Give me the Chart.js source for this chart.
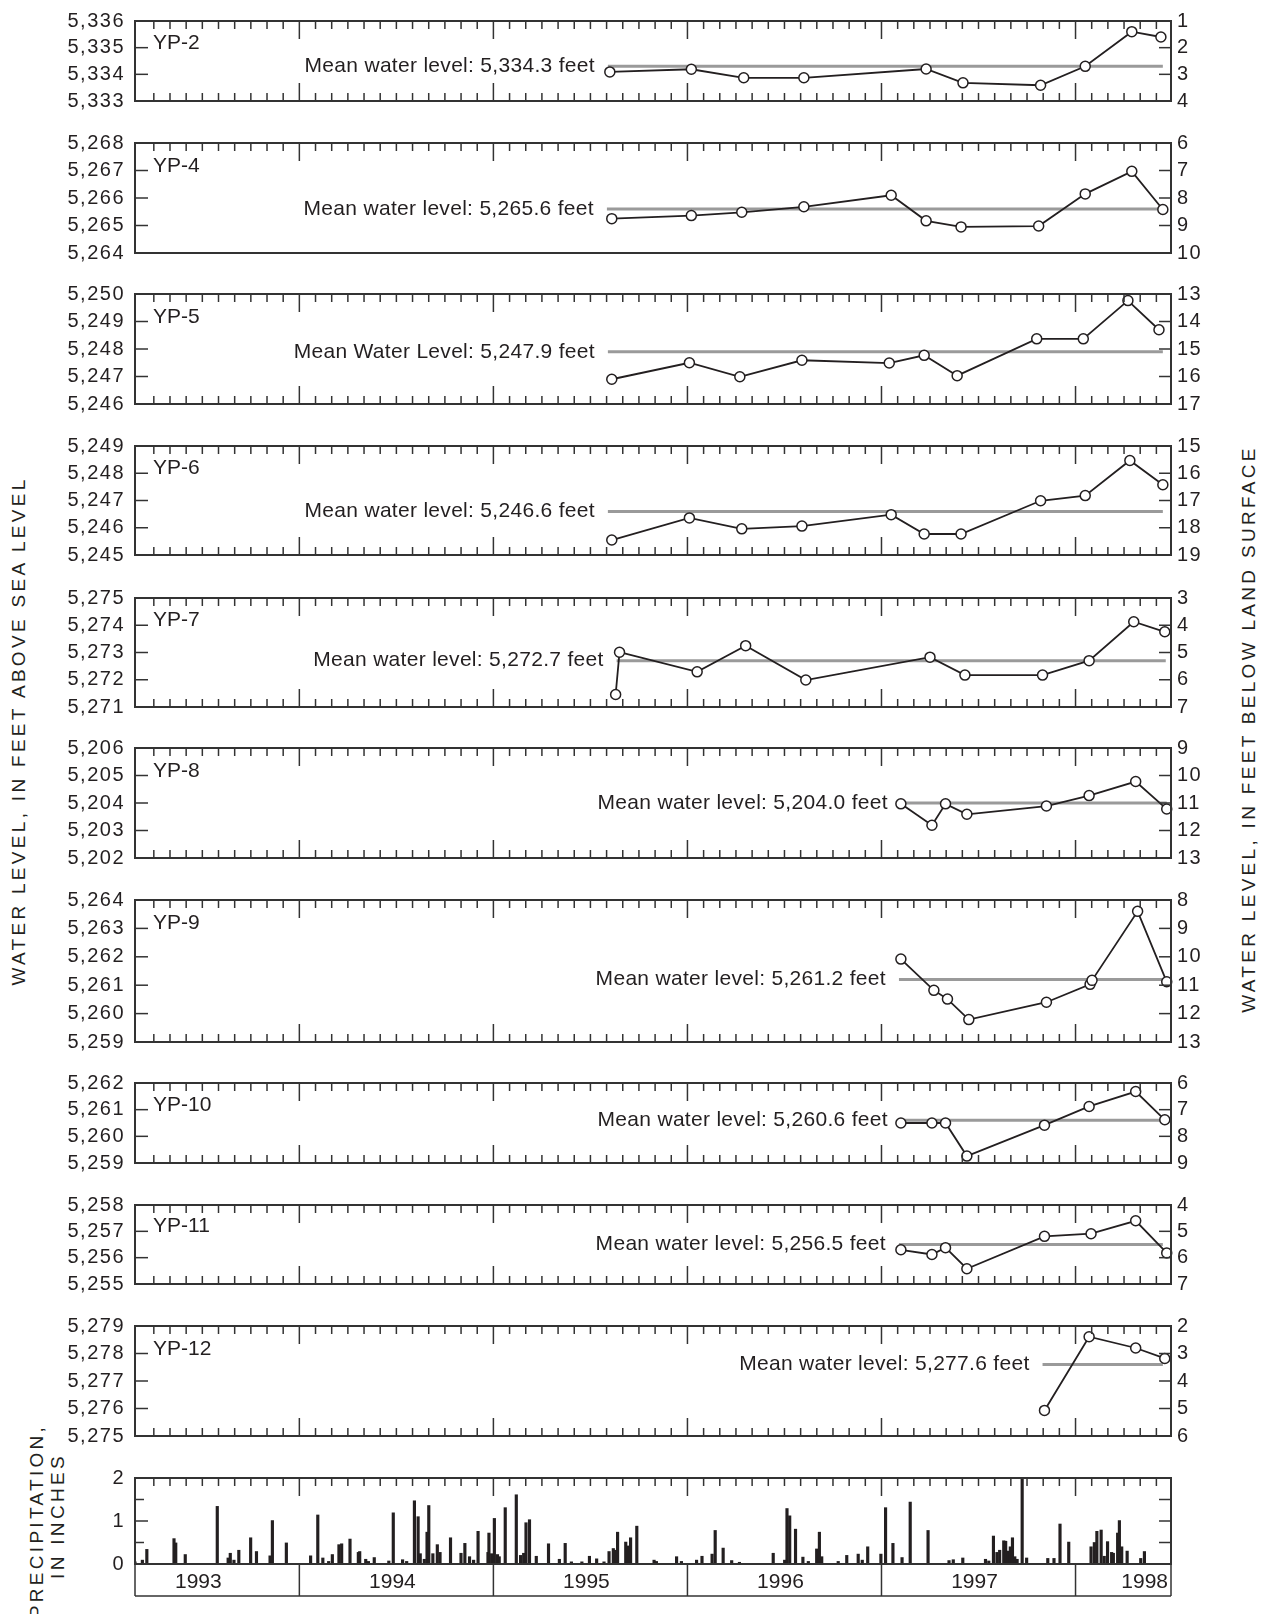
<!DOCTYPE html>
<html>
<head>
<meta charset="utf-8">
<title>YP wells - water levels and precipitation</title>
<script src="https://cdn.jsdelivr.net/npm/chart.js@4.4.1/dist/chart.umd.min.js"></script>
<style>
  body { margin: 0; background: #fff; }
  #page { position: relative; width: 1271px; height: 1614px; overflow: hidden;
          font-family: "Liberation Sans", Arial, Helvetica, sans-serif; color: #231f20; }
  #page canvas { position: absolute; left: 0; }
  .title { position: absolute; white-space: nowrap; font-size: 19px; letter-spacing: 3.3px;
           transform: translate(-50%, -50%) rotate(-90deg); }
</style>
</head>
<body>
<div id="page">
  <div class="title" style="left:19px; top:731px;">WATER LEVEL, IN FEET ABOVE SEA LEVEL</div>
  <div class="title" style="left:1249px; top:729px;">WATER LEVEL, IN FEET BELOW LAND SURFACE</div>
  <div class="title" style="left:37px; top:1521px;">PRECIPITATION,</div>
  <div class="title" style="left:58px; top:1516px;">IN INCHES</div>
</div>
<script>
const ink = '#231f20';
const frameColor = '#333333';
Chart.defaults.font.family = '"Liberation Sans", Arial, Helvetica, sans-serif';
Chart.defaults.color = ink;

// time axis, in decimal years
const xStart = 1993.153;
const xEnd = 1998.492;
const yearLabels = ['1993', '1994', '1995', '1996', '1997', '1998'];

// one entry per well panel, top to bottom
const wellNames = ['YP-2', 'YP-4', 'YP-5', 'YP-6', 'YP-7', 'YP-8', 'YP-9', 'YP-10', 'YP-11', 'YP-12'];
const levelMin = [5333, 5264, 5246, 5245, 5271, 5202, 5259, 5259, 5255, 5275];
const levelMax = [5336, 5268, 5250, 5249, 5275, 5206, 5264, 5262, 5258, 5279];
// depth below land surface at the top of each panel
const depthAtTop = [1, 6, 13, 15, 3, 9, 8, 6, 4, 2];
const meanLevels = [5334.3, 5265.6, 5247.9, 5246.6, 5272.7, 5204.0, 5261.2, 5260.6, 5256.5, 5277.6];
const meanTexts = [
  'Mean water level: 5,334.3 feet',
  'Mean water level: 5,265.6 feet',
  'Mean Water Level: 5,247.9 feet',
  'Mean water level: 5,246.6 feet',
  'Mean water level: 5,272.7 feet',
  'Mean water level: 5,204.0 feet',
  'Mean water level: 5,261.2 feet',
  'Mean water level: 5,260.6 feet',
  'Mean water level: 5,256.5 feet',
  'Mean water level: 5,277.6 feet'
];
const meanFrom = [1995.59, 1995.585, 1995.59, 1995.59, 1995.635, 1997.10, 1997.09, 1997.10, 1997.09, 1997.83];
const meanTo = [1998.45, 1998.455, 1998.45, 1998.45, 1998.465, 1998.47, 1998.47, 1998.47, 1998.45, 1998.45];

// measured water levels: decimal year, feet above sea level
const yp2Dates = [1995.60, 1996.02, 1996.29, 1996.60, 1997.23, 1997.42, 1997.82, 1998.05, 1998.29, 1998.44];
const yp2Levels = [5334.09, 5334.19, 5333.87, 5333.87, 5334.20, 5333.68, 5333.59, 5334.30, 5335.60, 5335.40];
const yp4Dates = [1995.61, 1996.02, 1996.28, 1996.60, 1997.05, 1997.23, 1997.41, 1997.81, 1998.05, 1998.29, 1998.45];
const yp4Levels = [5265.25, 5265.36, 5265.48, 5265.68, 5266.10, 5265.17, 5264.95, 5264.98, 5266.15, 5266.97, 5265.58];
const yp5Dates = [1995.61, 1996.01, 1996.27, 1996.59, 1997.04, 1997.22, 1997.39, 1997.80, 1998.04, 1998.27, 1998.43];
const yp5Levels = [5246.90, 5247.50, 5246.99, 5247.59, 5247.49, 5247.77, 5247.03, 5248.37, 5248.37, 5249.76, 5248.70];
const yp6Dates = [1995.61, 1996.01, 1996.28, 1996.59, 1997.05, 1997.22, 1997.41, 1997.82, 1998.05, 1998.28, 1998.45];
const yp6Levels = [5245.55, 5246.36, 5245.96, 5246.06, 5246.48, 5245.77, 5245.77, 5246.99, 5247.18, 5248.47, 5247.58];
const yp7Dates = [1995.63, 1995.65, 1996.05, 1996.30, 1996.61, 1997.25, 1997.43, 1997.83, 1998.07, 1998.30, 1998.46];
const yp7Levels = [5271.46, 5273.01, 5272.29, 5273.25, 5271.99, 5272.83, 5272.17, 5272.17, 5272.70, 5274.13, 5273.76];
const yp8Dates = [1997.10, 1997.26, 1997.33, 1997.44, 1997.85, 1998.07, 1998.31, 1998.47];
const yp8Levels = [5203.97, 5203.19, 5203.97, 5203.59, 5203.89, 5204.27, 5204.78, 5203.78];
const yp9Dates = [1997.10, 1997.27, 1997.34, 1997.45, 1997.85, 1998.075, 1998.085, 1998.32, 1998.47];
const yp9Levels = [5261.92, 5260.82, 5260.51, 5259.79, 5260.40, 5261.03, 5261.17, 5263.60, 5261.12];
const yp10Dates = [1997.10, 1997.26, 1997.33, 1997.44, 1997.84, 1998.07, 1998.31, 1998.46];
const yp10Levels = [5260.50, 5260.50, 5260.50, 5259.26, 5260.42, 5261.12, 5261.68, 5260.62];
const yp11Dates = [1997.10, 1997.26, 1997.33, 1997.44, 1997.84, 1998.08, 1998.31, 1998.47];
const yp11Levels = [5256.30, 5256.12, 5256.38, 5255.58, 5256.81, 5256.91, 5257.40, 5256.18];
const yp12Dates = [1997.84, 1998.07, 1998.31, 1998.46];
const yp12Levels = [5275.93, 5278.61, 5278.20, 5277.82];

const wellDates = [yp2Dates, yp4Dates, yp5Dates, yp6Dates, yp7Dates, yp8Dates, yp9Dates, yp10Dates, yp11Dates, yp12Dates];
const wellLevels = [yp2Levels, yp4Levels, yp5Levels, yp6Levels, yp7Levels, yp8Levels, yp9Levels, yp10Levels, yp11Levels, yp12Levels];

// daily precipitation: decimal year, inches
const precipDates = [
  1993.153, 1993.191, 1993.214, 1993.354, 1993.363, 1993.412, 1993.577, 1993.633, 1993.644, 1993.663,
  1993.688, 1993.749, 1993.779, 1993.849, 1993.861, 1993.933, 1994.058, 1994.095, 1994.121, 1994.151,
  1994.170, 1994.204, 1994.218, 1994.261, 1994.304, 1994.311, 1994.342, 1994.356, 1994.386, 1994.461,
  1994.484, 1994.532, 1994.553, 1994.593, 1994.612, 1994.623, 1994.644, 1994.658, 1994.667, 1994.688,
  1994.711, 1994.725, 1994.779, 1994.833, 1994.853, 1994.877, 1994.898, 1994.921, 1994.972, 1994.977,
  1994.991, 1995.005, 1995.021, 1995.030, 1995.061, 1995.118, 1995.140, 1995.156, 1995.168, 1995.186,
  1995.221, 1995.284, 1995.340, 1995.370, 1995.402, 1995.456, 1995.495, 1995.532, 1995.570, 1995.596,
  1995.618, 1995.630, 1995.640, 1995.682, 1995.691, 1995.707, 1995.739, 1995.828, 1995.840, 1995.944,
  1995.969, 1996.047, 1996.075, 1996.127, 1996.143, 1996.184, 1996.228, 1996.268, 1996.442, 1996.501,
  1996.513, 1996.527, 1996.557, 1996.595, 1996.623, 1996.666, 1996.680, 1996.692, 1996.777, 1996.821,
  1996.880, 1996.901, 1996.929, 1996.997, 1997.021, 1997.059, 1997.106, 1997.148, 1997.240, 1997.348,
  1997.370, 1997.419, 1997.536, 1997.553, 1997.577, 1997.595, 1997.609, 1997.630, 1997.640, 1997.652,
  1997.664, 1997.675, 1997.687, 1997.699, 1997.725, 1997.748, 1997.857, 1997.889, 1997.920, 1997.965,
  1998.080, 1998.097, 1998.110, 1998.132, 1998.148, 1998.165, 1998.186, 1998.195, 1998.217, 1998.226,
  1998.238, 1998.266, 1998.336, 1998.355
];
const precipInches = [
  0.05, 0.09, 0.34, 0.59, 0.49, 0.22, 1.34, 0.14, 0.25, 0.09,
  0.32, 0.61, 0.29, 0.19, 1.01, 0.49, 0.19, 1.14, 0.14, 0.06,
  0.22, 0.45, 0.47, 0.58, 0.27, 0.29, 0.11, 0.06, 0.15, 0.07,
  1.19, 0.10, 0.06, 1.47, 1.10, 0.24, 0.11, 0.74, 1.36, 0.24,
  0.45, 0.27, 0.61, 0.25, 0.48, 0.17, 0.09, 0.76, 0.27, 0.72,
  0.24, 1.06, 0.22, 0.17, 1.31, 1.61, 0.20, 0.25, 0.96, 1.03,
  0.18, 0.47, 0.11, 0.48, 0.05, 0.05, 0.18, 0.12, 0.05, 0.29,
  0.36, 0.32, 0.74, 0.51, 0.42, 0.61, 0.88, 0.09, 0.06, 0.17,
  0.06, 0.09, 0.18, 0.23, 0.78, 0.37, 0.08, 0.04, 0.25, 0.09,
  1.29, 1.12, 0.81, 0.16, 0.06, 0.35, 0.74, 0.17, 0.06, 0.20,
  0.23, 0.09, 0.40, 0.23, 1.31, 0.48, 0.15, 1.44, 0.78, 0.08,
  0.10, 0.14, 0.11, 0.07, 0.65, 0.27, 0.32, 0.54, 0.53, 0.30,
  0.40, 0.61, 0.17, 0.11, 2.00, 0.14, 0.13, 0.13, 0.93, 0.51,
  0.40, 0.50, 0.76, 0.79, 0.18, 0.52, 0.27, 0.25, 0.72, 1.01,
  0.40, 0.30, 0.13, 0.29
];

// page layout of the plot frames
const PAD = 16;
const LEFT_W = 135;
const RIGHT_W = 100;
const panelTop = [15, 137, 288, 440, 592, 742, 894, 1077, 1199, 1320];
const panelHeight = [92, 122, 122, 121, 121, 122, 154, 92, 91, 122];
const precipTop = 1472;
const precipHeight = 92;
const yearBoxHeight = 32;

const page = document.getElementById('page');

function addCanvas(top, height) {
  const c = document.createElement('canvas');
  c.width = 1271;
  c.height = height;
  c.style.top = top + 'px';
  page.appendChild(c);
  return c;
}

function line(ctx, x1, y1, x2, y2) {
  ctx.beginPath();
  ctx.moveTo(x1, y1);
  ctx.lineTo(x2, y2);
  ctx.stroke();
}

// frame, inward ticks, labels and the year strip
const framePlugin = {
  id: 'frame',
  beforeDraw(chart) {
    chart.ctx.letterSpacing = '1.5px';
  },
  afterDraw(chart, args, opts) {
    const { ctx, chartArea: a, scales } = chart;
    const xs = scales.x;
    const ys = scales.y;
    ctx.save();
    ctx.letterSpacing = '0px';
    ctx.strokeStyle = frameColor;
    ctx.lineWidth = 2;
    ctx.strokeRect(a.left, a.top, a.right - a.left, a.bottom - a.top);

    // monthly ticks, longer ones at the start of each year
    ctx.lineWidth = 1.5;
    for (let yr = 1993; yr <= 1998; yr++) {
      for (let m = 0; m < 12; m++) {
        const px = xs.getPixelForValue(yr + m / 12);
        if (px < a.left + 5 || px > a.right - 5) continue;
        const len = m === 0 ? 18 : 8;
        line(ctx, px, a.top, px, a.top + len);
        if (opts.bottomTicks) line(ctx, px, a.bottom, px, a.bottom - len);
      }
    }

    // inward ticks on both vertical edges
    ys.ticks.forEach(t => {
      if (t.value <= ys.min || t.value >= ys.max) return;
      const py = ys.getPixelForValue(t.value);
      line(ctx, a.left, py, a.left + (Number.isInteger(t.value) ? 13 : 9), py);
      line(ctx, a.right - 12, py, a.right, py);
    });

    ctx.fillStyle = ink;
    if (opts.name) {
      ctx.font = '21px ' + Chart.defaults.font.family;
      ctx.textAlign = 'left';
      ctx.textBaseline = 'alphabetic';
      ctx.fillText(opts.name, a.left + 18, ys.getPixelForValue(ys.max - 1) + 1);
    }
    if (opts.meanText) {
      ctx.font = '21px ' + Chart.defaults.font.family;
      ctx.letterSpacing = '0.3px';
      ctx.textAlign = 'right';
      ctx.textBaseline = 'middle';
      ctx.fillText(opts.meanText, xs.getPixelForValue(opts.meanFrom) - 13, ys.getPixelForValue(opts.mean));
    }

    if (opts.yearBox) {
      const b = a.bottom + yearBoxHeight;
      ctx.lineWidth = 1.5;
      line(ctx, a.left, a.bottom, a.left, b);
      line(ctx, a.right, a.bottom, a.right, b);
      line(ctx, a.left, b, a.right, b);
      ctx.font = '21px ' + Chart.defaults.font.family;
      ctx.letterSpacing = '0px';
      ctx.textAlign = 'center';
      ctx.textBaseline = 'middle';
      yearLabels.forEach(label => {
        const yr = Number(label);
        const px = xs.getPixelForValue(yr);
        if (px > a.left + 5) line(ctx, px, a.bottom, px, b);
        const w = ctx.measureText(label).width;
        let cx = xs.getPixelForValue(yr + 0.5) - 4;
        cx = Math.min(cx, a.right - 3 - w / 2);
        cx = Math.max(cx, a.left + 3 + w / 2);
        ctx.fillText(label, cx, a.bottom + 18);
      });
    }
    ctx.restore();
  }
};

const tickFont = { size: 20 };

// well panels
wellNames.forEach((name, i) => {
  const canvas = addCanvas(panelTop[i] - PAD, panelHeight[i] + 2 * PAD);
  const span = levelMax[i] - levelMin[i];
  new Chart(canvas, {
    type: 'line',
    data: {
      datasets: [
        {
          data: wellDates[i].map((t, k) => ({ x: t, y: wellLevels[i][k] })),
          borderColor: ink,
          borderWidth: 1.8,
          tension: 0,
          pointRadius: 5,
          pointBackgroundColor: '#ffffff',
          pointBorderColor: ink,
          pointBorderWidth: 1.5,
          clip: false
        },
        {
          data: [{ x: meanFrom[i], y: meanLevels[i] }, { x: meanTo[i], y: meanLevels[i] }],
          borderColor: '#9a9a9a',
          borderWidth: 3,
          pointRadius: 0
        }
      ]
    },
    options: {
      responsive: false,
      animation: false,
      devicePixelRatio: 1,
      events: [],
      layout: { padding: { top: PAD, bottom: PAD, left: 0, right: 0 } },
      plugins: {
        legend: { display: false },
        tooltip: { enabled: false },
        frame: {
          name: name,
          meanText: meanTexts[i],
          meanFrom: meanFrom[i],
          mean: meanLevels[i],
          bottomTicks: name !== 'YP-4'
        }
      },
      scales: {
        x: { type: 'linear', display: false, min: xStart, max: xEnd },
        y: {
          position: 'left',
          min: levelMin[i],
          max: levelMax[i],
          grid: { display: false, drawTicks: false },
          border: { display: false },
          ticks: { stepSize: 1, autoSkip: false, padding: 10, color: ink, font: tickFont,
                   callback: v => v.toLocaleString('en-US') },
          afterFit: s => { s.width = LEFT_W; }
        },
        y2: {
          position: 'right',
          reverse: true,
          min: depthAtTop[i],
          max: depthAtTop[i] + span,
          grid: { display: false, drawTicks: false },
          border: { display: false },
          ticks: { stepSize: 1, autoSkip: false, padding: 6, color: ink, font: tickFont },
          afterFit: s => { s.width = RIGHT_W; }
        }
      }
    },
    plugins: [framePlugin]
  });
});

// precipitation panel
const precipCanvas = addCanvas(precipTop - PAD, precipHeight + PAD + 40);
new Chart(precipCanvas, {
  type: 'bar',
  data: {
    datasets: [{
      data: precipDates.map((t, k) => ({ x: t, y: precipInches[k] })),
      backgroundColor: ink,
      borderWidth: 0,
      barThickness: 2.5
    }]
  },
  options: {
    responsive: false,
    animation: false,
    devicePixelRatio: 1,
    events: [],
    layout: { padding: { top: PAD, bottom: 40, left: 0, right: RIGHT_W } },
    plugins: {
      legend: { display: false },
      tooltip: { enabled: false },
      frame: { yearBox: true, bottomTicks: false }
    },
    scales: {
      x: { type: 'linear', display: false, offset: false, min: xStart, max: xEnd },
      y: {
        position: 'left',
        min: 0,
        max: 2,
        grid: { display: false, drawTicks: false },
        border: { display: false },
        ticks: { stepSize: 0.5, autoSkip: false, padding: 10, color: ink, font: tickFont,
                 callback: v => Number.isInteger(v) ? String(v) : '' },
        afterFit: s => { s.width = LEFT_W; }
      }
    }
  },
  plugins: [framePlugin]
});
</script>
</body>
</html>
